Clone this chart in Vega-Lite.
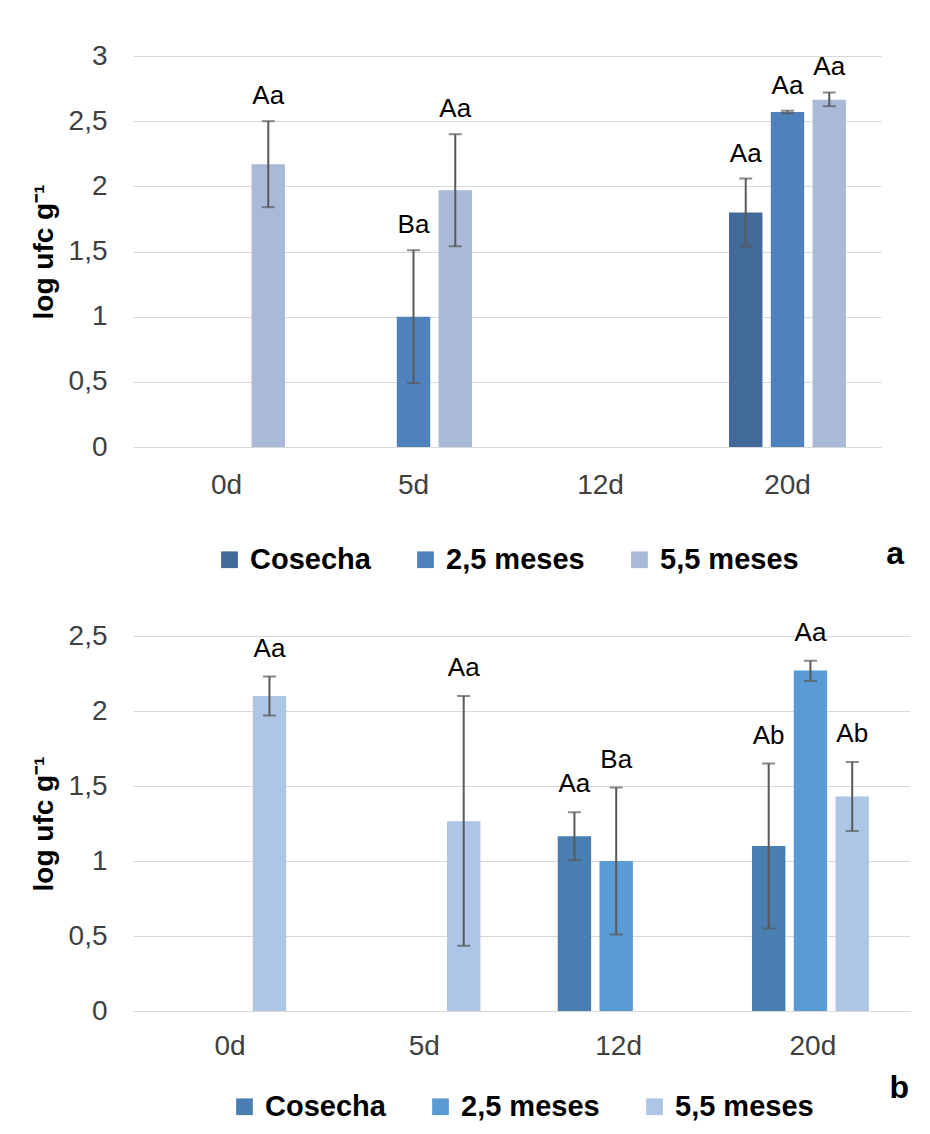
{
  "$schema": "https://vega.github.io/schema/vega-lite/v6.json",
  "padding": {"left": 30, "top": 42, "right": 5, "bottom": 5},
  "background": "white",
  "datasets": {
    "a": [
      {"day": "0d", "serie": "5,5 meses", "mean": 2.17, "lo": 1.84, "hi": 2.5, "label": "Aa"},
      {"day": "5d", "serie": "2,5 meses", "mean": 1.0, "lo": 0.49, "hi": 1.51, "label": "Ba"},
      {"day": "5d", "serie": "5,5 meses", "mean": 1.97, "lo": 1.54, "hi": 2.4, "label": "Aa"},
      {"day": "20d", "serie": "Cosecha", "mean": 1.8, "lo": 1.54, "hi": 2.06, "label": "Aa"},
      {"day": "20d", "serie": "2,5 meses", "mean": 2.57, "lo": 2.56, "hi": 2.58, "label": "Aa"},
      {"day": "20d", "serie": "5,5 meses", "mean": 2.665, "lo": 2.615, "hi": 2.72, "label": "Aa"}
    ],
    "b": [
      {"day": "0d", "serie": "5,5 meses", "mean": 2.1, "lo": 1.97, "hi": 2.23, "label": "Aa"},
      {"day": "5d", "serie": "5,5 meses", "mean": 1.265, "lo": 0.435, "hi": 2.1, "label": "Aa"},
      {"day": "12d", "serie": "Cosecha", "mean": 1.165, "lo": 1.005, "hi": 1.325, "label": "Aa"},
      {"day": "12d", "serie": "2,5 meses", "mean": 1.0, "lo": 0.51, "hi": 1.49, "label": "Ba"},
      {"day": "20d", "serie": "Cosecha", "mean": 1.1, "lo": 0.55, "hi": 1.65, "label": "Ab"},
      {"day": "20d", "serie": "2,5 meses", "mean": 2.27, "lo": 2.2, "hi": 2.335, "label": "Aa"},
      {"day": "20d", "serie": "5,5 meses", "mean": 1.43, "lo": 1.2, "hi": 1.66, "label": "Ab"}
    ]
  },
  "config": {
    "font": "Liberation Sans",
    "view": {"stroke": null},
    "axis": {
      "labelFont": "Liberation Sans",
      "labelFontSize": 28,
      "labelColor": "#404040",
      "gridColor": "#D9D9D9",
      "domainColor": "#D9D9D9",
      "ticks": false,
      "titleFont": "Liberation Sans",
      "titleFontSize": 28,
      "titleFontWeight": "bold",
      "titleColor": "#000000"
    },
    "legend": {
      "layout": {"bottom": {"anchor": "middle"}}
    }
  },
  "spacing": 44,
  "resolve": {"scale": {"color": "independent"}},
  "vconcat": [
    {
      "width": 748,
      "height": 391,
      "data": {"name": "a"},
      "title": {"text": "a", "orient": "bottom", "anchor": "end", "frame": "group", "fontSize": 32, "fontWeight": "bold", "color": "#000000", "dx": 23, "dy": -40},
      "encoding": {
        "x": {"field": "day", "type": "nominal", "sort": ["0d", "5d", "12d", "20d"],
          "scale": {"domain": ["0d", "5d", "12d", "20d"], "paddingInner": 0.33, "paddingOuter": 0.165},
          "axis": {"title": null, "labelAngle": 0, "labelPadding": 24, "domain": true, "grid": false}},
        "xOffset": {"field": "serie", "type": "nominal",
          "scale": {"domain": ["Cosecha", "2,5 meses", "5,5 meses"], "paddingInner": 0.2, "paddingOuter": 0.1}}
      },
      "layer": [
        {
          "mark": {"type": "bar"},
          "encoding": {
            "y": {"field": "mean", "type": "quantitative", "title": "log ufc g⁻¹",
              "scale": {"domain": [0, 3], "nice": false},
              "axis": {"values": [0, 0.5, 1, 1.5, 2, 2.5, 3], "domain": false, "grid": true, "labelPadding": 26, "titlePadding": 10,
                "labelExpr": "replace(format(datum.value, '~g'), '.', ',')"}},
            "color": {"field": "serie", "type": "nominal",
              "scale": {"domain": ["Cosecha", "2,5 meses", "5,5 meses"], "range": ["#41699A", "#4F81BD", "#A9B9D7"]},
              "legend": {"title": null, "orient": "bottom", "direction": "horizontal", "symbolType": "square", "symbolSize": 280,
                "symbolStrokeWidth": 0, "labelFontSize": 29, "labelFontWeight": "bold", "labelColor": "#000000",
                "columnPadding": 40, "labelOffset": 6, "offset": 46}}
          }
        },
        {
          "mark": {"type": "rule", "color": "#595959", "strokeWidth": 2},
          "encoding": {"y": {"field": "lo", "type": "quantitative", "title": "log ufc g⁻¹"}, "y2": {"field": "hi"}}
        },
        {
          "mark": {"type": "tick", "color": "#595959", "thickness": 2, "size": 13},
          "encoding": {"y": {"field": "lo", "type": "quantitative", "title": "log ufc g⁻¹"}}
        },
        {
          "mark": {"type": "tick", "color": "#595959", "thickness": 2, "size": 13},
          "encoding": {"y": {"field": "hi", "type": "quantitative", "title": "log ufc g⁻¹"}}
        },
        {
          "mark": {"type": "text", "dy": -25, "fontSize": 26, "baseline": "middle", "color": "#000000"},
          "encoding": {"y": {"field": "hi", "type": "quantitative", "title": "log ufc g⁻¹"}, "text": {"field": "label"}}
        }
      ]
    },
    {
      "width": 777,
      "height": 375,
      "data": {"name": "b"},
      "title": {"text": "b", "orient": "bottom", "anchor": "end", "frame": "group", "fontSize": 32, "fontWeight": "bold", "color": "#000000", "dx": -1, "dy": -53},
      "encoding": {
        "x": {"field": "day", "type": "nominal", "sort": ["0d", "5d", "12d", "20d"],
          "scale": {"domain": ["0d", "5d", "12d", "20d"], "paddingInner": 0.33, "paddingOuter": 0.165},
          "axis": {"title": null, "labelAngle": 0, "labelPadding": 21, "domain": true, "grid": false}},
        "xOffset": {"field": "serie", "type": "nominal",
          "scale": {"domain": ["Cosecha", "2,5 meses", "5,5 meses"], "paddingInner": 0.22, "paddingOuter": 0.11}}
      },
      "layer": [
        {
          "mark": {"type": "bar"},
          "encoding": {
            "y": {"field": "mean", "type": "quantitative", "title": "log ufc g⁻¹",
              "scale": {"domain": [0, 2.5], "nice": false},
              "axis": {"values": [0, 0.5, 1, 1.5, 2, 2.5], "domain": false, "grid": true, "labelPadding": 26, "titlePadding": 10,
                "labelExpr": "replace(format(datum.value, '~g'), '.', ',')"}},
            "color": {"field": "serie", "type": "nominal",
              "scale": {"domain": ["Cosecha", "2,5 meses", "5,5 meses"], "range": ["#4A7EB1", "#5B9BD5", "#ADC5E6"]},
              "legend": {"title": null, "orient": "bottom", "direction": "horizontal", "symbolType": "square", "symbolSize": 280,
                "symbolStrokeWidth": 0, "labelFontSize": 29, "labelFontWeight": "bold", "labelColor": "#000000",
                "columnPadding": 40, "labelOffset": 6, "offset": 32}}
          }
        },
        {
          "mark": {"type": "rule", "color": "#595959", "strokeWidth": 2},
          "encoding": {"y": {"field": "lo", "type": "quantitative", "title": "log ufc g⁻¹"}, "y2": {"field": "hi"}}
        },
        {
          "mark": {"type": "tick", "color": "#595959", "thickness": 2, "size": 13},
          "encoding": {"y": {"field": "lo", "type": "quantitative", "title": "log ufc g⁻¹"}}
        },
        {
          "mark": {"type": "tick", "color": "#595959", "thickness": 2, "size": 13},
          "encoding": {"y": {"field": "hi", "type": "quantitative", "title": "log ufc g⁻¹"}}
        },
        {
          "mark": {"type": "text", "dy": -28, "fontSize": 26, "baseline": "middle", "color": "#000000"},
          "encoding": {"y": {"field": "hi", "type": "quantitative", "title": "log ufc g⁻¹"}, "text": {"field": "label"}}
        }
      ]
    }
  ]
}
